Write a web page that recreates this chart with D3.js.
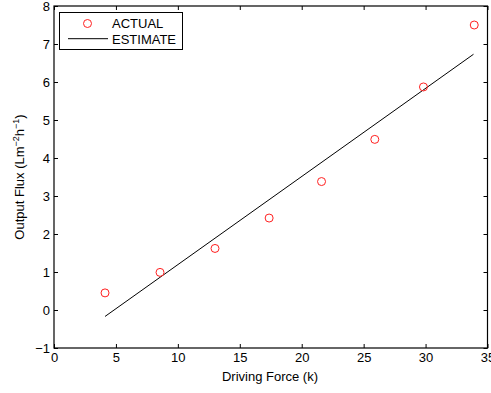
<!DOCTYPE html>
<html><head><meta charset="utf-8">
<script src="https://cdn.jsdelivr.net/npm/d3@7"></script>
<style>body{margin:0;background:#fff}svg{display:block}text{font-family:"Liberation Sans",Arial,sans-serif}</style>
</head><body><svg id="c" width="491" height="393"></svg>
<script>
const actualX = [4.12, 8.56, 13.0, 17.37, 21.6, 25.9, 29.83, 33.93];
const actualY = [0.45, 0.99, 1.62, 2.42, 3.38, 4.49, 5.87, 7.5];
const estimateX = [4.12, 33.87];
const estimateY = [-0.17, 6.73];
const xTicks = [0, 5, 10, 15, 20, 25, 30, 35];
const yTicks = [-1, 0, 1, 2, 3, 4, 5, 6, 7, 8];

const svg = d3.select("#c");
const L = 54, R = 487.5, T = 6, B = 348;
const x = d3.scaleLinear().domain([0, 35]).range([L, R]);
const y = d3.scaleLinear().domain([-1, 8]).range([B, T]);
const fs = 13;

const g = svg.append("g");
g.append("g").attr("transform", `translate(0,${B})`)
  .call(d3.axisBottom(x).tickValues(xTicks).tickSize(-4).tickPadding(5).tickFormat(d3.format("d")))
  .call(a => { a.select(".domain").remove(); a.selectAll("text").attr("font-size", fs).attr("fill","#000").attr("font-family","Liberation Sans, Arial, sans-serif"); });
g.append("g").attr("transform", `translate(0,${T})`)
  .call(d3.axisTop(x).tickValues(xTicks).tickSize(-4).tickFormat(""))
  .call(a => a.select(".domain").remove());
g.append("g").attr("transform", `translate(${L},0)`)
  .call(d3.axisLeft(y).tickValues(yTicks).tickSize(-4).tickPadding(4).tickFormat(d => d < 0 ? "\u2212" + Math.abs(d) : d))
  .call(a => { a.select(".domain").remove(); a.selectAll("text").attr("font-size", fs).attr("fill","#000").attr("font-family","Liberation Sans, Arial, sans-serif"); });
g.append("g").attr("transform", `translate(${R},0)`)
  .call(d3.axisRight(y).tickValues(yTicks).tickSize(-4).tickFormat(""))
  .call(a => a.select(".domain").remove());
g.selectAll(".tick line").attr("stroke", "#000");

svg.append("rect").attr("x", L).attr("y", T).attr("width", R - L).attr("height", B - T)
  .attr("fill", "none").attr("stroke", "#000").attr("stroke-width", 1.2);

const line = d3.line().x(d => x(d[0])).y(d => y(d[1]));
svg.append("path").datum(estimateX.map((v, i) => [v, estimateY[i]]))
  .attr("d", line).attr("fill", "none").attr("stroke", "#000").attr("stroke-width", 1);

svg.selectAll("circle.pt").data(actualX.map((v, i) => [v, actualY[i]])).enter()
  .append("circle").attr("class", "pt")
  .attr("cx", d => x(d[0])).attr("cy", d => y(d[1])).attr("r", 4)
  .attr("fill", "none").attr("stroke", "#ff2020").attr("stroke-width", 1);

const lg = svg.append("g");
lg.append("rect").attr("x", 59.5).attr("y", 12.5).attr("width", 123).attr("height", 37)
  .attr("fill", "#fff").attr("stroke", "#000").attr("stroke-width", 1);
lg.append("circle").attr("cx", 87.5).attr("cy", 23.5).attr("r", 4)
  .attr("fill", "none").attr("stroke", "#ff2020").attr("stroke-width", 1);
lg.append("text").attr("x", 112).attr("y", 28).attr("font-size", fs).text("ACTUAL");
lg.append("line").attr("x1", 68).attr("x2", 108).attr("y1", 38.7).attr("y2", 38.7).attr("stroke", "#000");
lg.append("text").attr("x", 112).attr("y", 44).attr("font-size", fs).text("ESTIMATE");

svg.append("text").attr("x", 270).attr("y", 381).attr("text-anchor", "middle")
  .attr("font-size", fs).text("Driving Force (k)");
const yl = svg.append("text").attr("transform", `translate(24,${(T + B) / 2}) rotate(-90)`)
  .attr("text-anchor", "middle").attr("font-size", fs);
yl.append("tspan").text("Output Flux (Lm");
yl.append("tspan").attr("dy", -5).attr("font-size", 9).text("\u22122");
yl.append("tspan").attr("dy", 5).text("h");
yl.append("tspan").attr("dy", -5).attr("font-size", 9).text("\u22121");
yl.append("tspan").attr("dy", 5).text(")");
</script></body></html>
